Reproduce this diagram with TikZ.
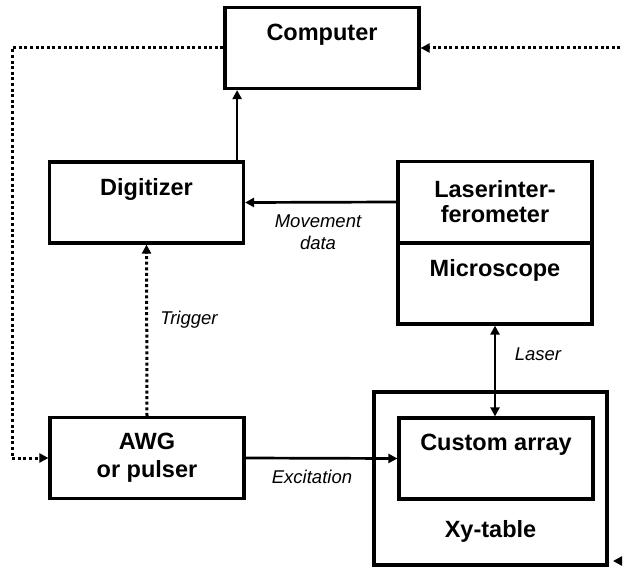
\documentclass[tikz,border=0pt]{standalone}
\usepackage{fontspec}
\setmainfont{Liberation Sans}
\usetikzlibrary{arrows.meta, positioning, calc}

\tikzset{
  block/.style={draw, line width=3.2pt, minimum width=194pt, minimum height=81pt, inner sep=0pt,
    align=center, font=\fontsize{23.5}{28}\selectfont\bfseries},
  lbl/.style={font=\fontsize{18.5}{22}\selectfont\itshape, align=center, inner sep=0pt},
  arr/.style={line width=2.7pt, -{Triangle[length=9pt,width=9pt]}},
  dotarr/.style={line width=3pt, dash pattern=on 3pt off 2.6pt, -{Triangle[length=9pt,width=9pt]}}
}

\begin{document}
\begin{tikzpicture}[x=1pt, y=-1pt]
          \useasboundingbox (0,0) rectangle (623,567);
          % Bloques
          \node[block] (comp) at (322,48) {Computer\\[4pt]~};
          \node[block] (dig) at (146.5,202.5) {Digitizer\\[4pt]~};
          \node[block] (laser) at (495,202) {Laserinter-\\[-3pt]ferometer};
          \node[block] (micro) at (495,283.5) {Microscope\\[4pt]~};
          \node[block] (awg) at (147,458) {AWG\\or pulser};
          \node[block, minimum width=233pt, minimum height=173pt] (xy) at (490.5,478.5) {};
          \node[block, fill=white] (arr) at (496,458.5) {Custom array\\[4pt]~};
          \node[block, draw=none, minimum size=0pt] (xytxt) at ([yshift=35pt]xy.south) {Xy-table};
          % Conexiones
          \coordinate (lft) at (12,0);
          \coordinate (rin) at (626,48);
          \coordinate (xyin) at (626,561);
          \coordinate (xytip) at (613,561);
          \draw[arr] ([xshift=-8pt]dig.north east) -- ([xshift=-8pt]dig.north east |- comp.south);
          \draw[arr] (laser.west) -- (dig.east);
          \draw[line width=2.7pt, {Triangle[length=9pt,width=9pt]}-{Triangle[length=9pt,width=9pt]}] (micro.south) -- (micro.south |- arr.north);
          \draw[arr] (awg.east) -- (arr.west);
          \draw[dotarr] (awg.north) -- (dig.south);
          \draw[dotarr] (comp.west) -- (comp.west -| lft) |- (awg.west);
          \draw[dotarr] (rin) -- (comp.east);
          \draw[dotarr] (xyin) -- (xytip);
          % Etiquetas
          \node[lbl] (mvlbl) at (318,232) {Movement\\data};
          \node[lbl] (trglbl) at (189,320) {Trigger};
          \node[lbl] (lsrlbl) at (538,354) {Laser};
          \node[lbl] (exclbl) at (312,477) {Excitation};
        \end{tikzpicture}
\end{document}
